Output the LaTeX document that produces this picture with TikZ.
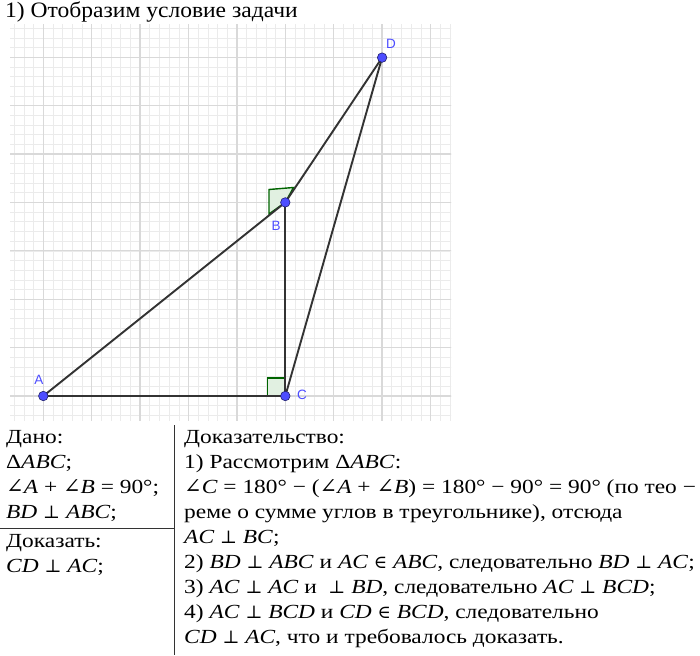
\documentclass[tikz,border=0pt]{standalone}
\usepackage{fontspec}
\setmainfont[FakeStretch=1.17]{Liberation Serif}
\newfontfamily\titlef[FakeStretch=1.07]{Liberation Serif}
\newfontfamily\symf{DejaVu Serif}
\newfontfamily\labf{Liberation Sans}
\newcommand\mi[1]{\textit{#1}}
\newcommand\Perp{{\symf\fontsize{18}{22}\selectfont ⊥}}
\newcommand\Ang{{\symf\fontsize{21}{22}\selectfont ∠}}
\newcommand\In{{\symf\fontsize{18}{22}\selectfont ∈}}
\definecolor{ptblue}{RGB}{77,77,255}
\definecolor{ptedge}{RGB}{30,30,110}
\definecolor{segc}{RGB}{51,51,51}
\definecolor{angc}{RGB}{0,100,0}
\definecolor{angfill}{RGB}{225,240,225}
\tikzset{
  minorg/.style={draw=gray!16, line width=0.6pt},
  majorg/.style={draw=gray!30, line width=1.3pt},
  seg/.style={draw=segc, line width=1.9pt},
  rang/.style={draw=angc, fill=angfill, line width=1.4pt},
  pt/.style={circle, fill=ptblue, draw=ptedge, line width=0.6pt, minimum size=9.5pt, inner sep=0pt},
  lab/.style={text=ptblue, font=\labf\fontsize{13.5}{15}\selectfont, inner sep=0pt},
  txt/.style={anchor=base west, inner sep=0pt, font=\fontsize{20}{24}\selectfont},
  ttl/.style={anchor=base west, inner sep=0pt, font=\titlef\fontsize{22}{26}\selectfont},
  rule/.style={draw=segc, line width=0.9pt}
}
\begin{document}
\begin{tikzpicture}[x=1pt,y=-1pt]
\useasboundingbox[fill=white] (0,0) rectangle (700,655);
% grid
\begin{scope}
\clip (10,25) rectangle (451,420);
\foreach \k in {-4,...,42} {\draw[minorg] ({43.3+\k*9.68},20) -- ({43.3+\k*9.68},425);}
\foreach \k in {-3,...,38} {\draw[minorg] (5,{396-\k*9.68}) -- (455,{396-\k*9.68});}
\foreach \k in {0,...,8} {\draw[majorg] ({43.3+\k*48.4},20) -- ({43.3+\k*48.4},425);}
\foreach \k in {0,...,7} {\draw[majorg] (5,{396-\k*48.4}) -- (455,{396-\k*48.4});}
\end{scope}
\coordinate (A) at (43.3,396);
\coordinate (C) at (285.3,396);
\coordinate (B) at (285.3,202.4);
\coordinate (D) at (382.1,57.6);
% right-angle marks
\draw[rang] (B) -- (269,214) -- (269,189.5) -- (293.5,187.5) -- cycle;
\draw[rang] (C) rectangle (267.5,378);
% segments
\draw[seg] (A) -- (C);
\draw[seg] (A) -- (B);
\draw[seg] (B) -- (C);
\draw[seg] (B) -- (D);
\draw[seg] (C) -- (D);
% points
\node[pt] (pA) at (A) {};
\node[pt] (pB) at (B) {};
\node[pt] (pC) at (C) {};
\node[pt] (pD) at (D) {};
\node[lab] (lA) at (39,380) {A};
\node[lab] (lB) at (276,226) {B};
\node[lab] (lC) at (302,395) {C};
\node[lab] (lD) at (391,44) {D};
% title
\node[ttl] (title) at (5,18) {1) Отобразим условие задачи};
% table rules
\draw[rule] (174.5,425) -- (174.5,655);
\draw[rule] (0,528) -- (174.5,528);
% left column
\node[txt] (g1) at (6,443) {Дано:};
\node[txt] (g2) at (6,468) {Δ\mi{ABC};};
\node[txt] (g3) at (6,493) {\Ang\mi{A} + \Ang\mi{B} = 90°;};
\node[txt] (g4) at (6,518) {\mi{BD} \Perp{} \mi{ABC};};
\node[txt] (p1) at (6,547) {Доказать:};
\node[txt] (p2) at (6,572) {\mi{CD} \Perp{} \mi{AC};};
% right column
\node[txt] (r1) at (184,443) {Доказательство:};
\node[txt] (r2) at (184,468) {1) Рассмотрим Δ\mi{ABC}:};
\node[txt] (r3) at (184,493) {\Ang\mi{C} = 180° − (\Ang\mi{A} + \Ang\mi{B}) = 180° − 90° = 90° (по тео −};
\node[txt] (r4) at (184,518) {реме о сумме углов в треугольнике), отсюда};
\node[txt] (r5) at (184,543) {\mi{AC} \Perp{} \mi{BC};};
\node[txt] (r6) at (184,568) {2) \mi{BD} \Perp{} \mi{ABC} и \mi{AC} \In{} \mi{ABC}, следовательно \mi{BD} \Perp{} \mi{AC};};
\node[txt] (r7) at (184,593) {3) \mi{AC} \Perp{} \mi{AC} и~ \Perp{} \mi{BD}, следовательно \mi{AC} \Perp{} \mi{BCD};};
\node[txt] (r8) at (184,618) {4) \mi{AC} \Perp{} \mi{BCD} и \mi{CD} \In{} \mi{BCD}, следовательно};
\node[txt] (r9) at (184,643) {\mi{CD} \Perp{} \mi{AC}, что и требовалось доказать.};
\end{tikzpicture}
\end{document}
